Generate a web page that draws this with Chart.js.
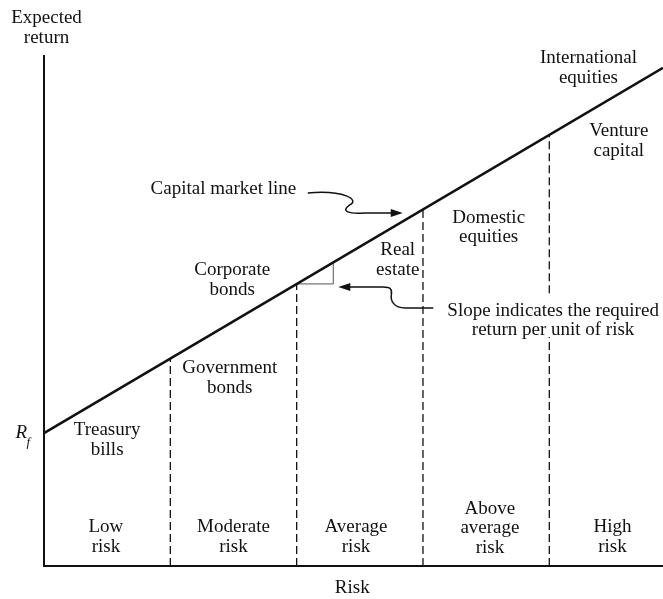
<!DOCTYPE html>
<html>
<head>
<meta charset="utf-8">
<title>Capital market line</title>
<script src="https://cdn.jsdelivr.net/npm/chart.js@4.4.0/dist/chart.umd.min.js"></script>
<style>
  html, body { margin: 0; padding: 0; background: #fff; }
</style>
</head>
<body>
<canvas id="cmlChart" width="663" height="599"></canvas>
<script>
// Axis ranges (risk units / return units)
const X_MAX = 4.9;
const Y_MAX = 10;

// Capital market line: risk -> expected return
const cmlRisk = [0, 4.9];
const cmlReturn = [2.6, 9.75];

// Risk band boundaries and where they meet the line
const boundaryRisk = [1, 2, 3, 4];
const boundaryTop = [4.06, 5.52, 6.98, 8.44];

// Break in the last boundary where the slope note sits
const noteGap = [4.48, 5.34];

// Slope triangle under the line
const triangleRisk = [2, 2.29, 2.29];
const triangleReturn = [5.52, 5.52, 5.94];

// Text
const riskBands = [['Low', 'risk'], ['Moderate', 'risk'], ['Average', 'risk'], ['Above', 'average', 'risk'], ['High', 'risk']];
const bandLabelX = [0.49, 1.5, 2.47, 3.53, 4.5];

const assetClasses = [
  ['Treasury', 'bills'],
  ['Government', 'bonds'],
  ['Corporate', 'bonds'],
  ['Real', 'estate'],
  ['Domestic', 'equities'],
  ['Venture', 'capital'],
  ['International', 'equities']
];
const assetLabelX = [0.5, 1.47, 1.49, 2.8, 3.52, 4.55, 4.31];
const assetLabelY = [2.66, 3.87, 5.79, 6.18, 6.81, 8.51, 9.94];

const FONT = '"Liberation Serif", "DejaVu Serif", serif';
const INK = '#111';

/**
 * Build a plain line dataset
 */
function lineSet(points, opts) {
  return Object.assign({
    data: points,
    showLine: true,
    borderColor: INK,
    borderWidth: 2,
    pointRadius: 0,
    clip: false
  }, opts || {});
}

const datasets = [];

// axes
datasets.push(lineSet([{ x: 0, y: Y_MAX }, { x: 0, y: 0 }, { x: X_MAX, y: 0 }], { borderWidth: 2 }));

// capital market line
datasets.push(lineSet(cmlRisk.map((x, i) => ({ x: x, y: cmlReturn[i] })), { borderWidth: 2.6 }));

// dashed risk boundaries
boundaryRisk.forEach((x, i) => {
  let pts = [{ x: x, y: 0 }, { x: x, y: boundaryTop[i] }];
  if (i === boundaryRisk.length - 1) {
    pts = [{ x: x, y: 0 }, { x: x, y: noteGap[0] }, { x: x, y: null }, { x: x, y: noteGap[1] }, { x: x, y: boundaryTop[i] }];
  }
  datasets.push(lineSet(pts, { borderWidth: 1.3, borderDash: [8, 4], spanGaps: false }));
});

// slope triangle
datasets.push(lineSet(triangleRisk.map((x, i) => ({ x: x, y: triangleReturn[i] })), { borderWidth: 1, borderColor: '#555' }));

/**
 * Draw multi-line centred text
 */
function drawLines(ctx, lines, cx, cy, lh) {
  lines.forEach((t, i) => ctx.fillText(t, cx, cy + i * lh));
}

/**
 * Draw a curved arrow, path given as pixel offsets from the tip
 */
function drawArrow(ctx, tx, ty, path, dir) {
  ctx.save();
  ctx.strokeStyle = INK;
  ctx.fillStyle = INK;
  ctx.lineWidth = 1.5;
  ctx.beginPath();
  path.forEach(seg => {
    const p = seg.slice(1).map((v, k) => v + (k % 2 === 0 ? tx : ty));
    if (seg[0] === 'M') ctx.moveTo(p[0], p[1]);
    else if (seg[0] === 'L') ctx.lineTo(p[0], p[1]);
    else ctx.bezierCurveTo(p[0], p[1], p[2], p[3], p[4], p[5]);
  });
  ctx.stroke();
  ctx.beginPath();
  ctx.moveTo(tx, ty);
  ctx.lineTo(tx - dir * 12, ty - 4);
  ctx.lineTo(tx - dir * 12, ty + 4);
  ctx.closePath();
  ctx.fill();
  ctx.restore();
}

const annotations = {
  id: 'annotations',
  afterDatasetsDraw(chart) {
    const ctx = chart.ctx;
    const xs = chart.scales.x;
    const ys = chart.scales.y;
    const px = v => xs.getPixelForValue(v);
    const py = v => ys.getPixelForValue(v);
    const LH = 19.5;

    ctx.save();
    ctx.fillStyle = INK;
    ctx.textAlign = 'center';
    ctx.textBaseline = 'middle';
    ctx.font = '19px ' + FONT;

    // axis titles
    drawLines(ctx, ['Expected', 'return'], px(0.02), py(10.72), LH);
    ctx.fillText('Risk', px(2.44), py(-0.43));

    // asset classes
    assetClasses.forEach((lines, i) => drawLines(ctx, lines, px(assetLabelX[i]), py(assetLabelY[i]), LH));

    // risk bands
    riskBands.forEach((lines, i) => {
      const top = lines.length === 3 ? 1.12 : 0.76;
      drawLines(ctx, lines, px(bandLabelX[i]), py(top), LH);
    });

    // notes
    ctx.fillText('Capital market line', px(1.42), py(7.38));
    drawLines(ctx, ['Slope indicates the required', 'return per unit of risk'], px(4.03), py(4.99), LH);

    // R_f
    ctx.font = 'italic 19px ' + FONT;
    ctx.fillText('R', px(-0.18), py(cmlReturn[0]));
    ctx.font = 'italic 13px ' + FONT;
    ctx.fillText('f', px(-0.125), py(cmlReturn[0]) + 9);
    ctx.restore();

    // arrow to the line
    drawArrow(ctx, px(2.84), py(6.91), [
      ['M', -95, -20],
      ['C', -58, -23, -43, -13, -53, -8],
      ['C', -63, -1, -53, 1, -38, 0],
      ['L', -10, 0]
    ], 1);

    // arrow to the slope triangle
    drawArrow(ctx, px(2.33), py(5.46), [
      ['M', 95, 21],
      ['L', 67, 21],
      ['C', 55, 21, 52, 13, 53, 8],
      ['C', 54, 2, 52, 0, 45, 0],
      ['L', 10, 0]
    ], -1);
  }
};

new Chart(document.getElementById('cmlChart'), {
  type: 'scatter',
  data: { datasets: datasets },
  options: {
    responsive: false,
    animation: false,
    layout: { padding: { left: 44, right: 0, top: 55, bottom: 33 } },
    plugins: {
      legend: { display: false },
      tooltip: { enabled: false }
    },
    scales: {
      x: { type: 'linear', min: 0, max: X_MAX, display: false },
      y: { type: 'linear', min: 0, max: Y_MAX, display: false }
    }
  },
  plugins: [annotations]
});
</script>
</body>
</html>
